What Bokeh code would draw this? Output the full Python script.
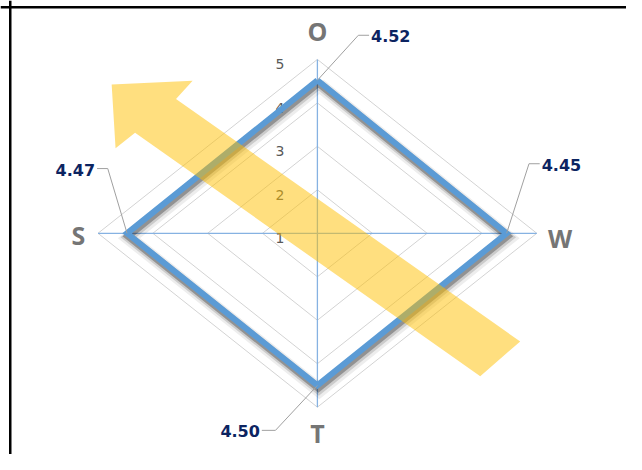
import numpy as np
from bokeh.plotting import figure
from bokeh.models import Range1d, Span
from bokeh.core.properties import value
from bokeh.embed import file_html
from bokeh.resources import INLINE

# ---- data ----
categories = ["O", "W", "T", "S"]
scores = [4.52, 4.45, 4.50, 4.47]
score_labels = ["4.52", "4.45", "4.50", "4.47"]
ticks = [1, 2, 3, 4, 5]
tick_labels = ["1", "2", "3", "4", "5"]
r_min, r_max = 1, 5

# ---- layout helpers (reference pixel -> data units) ----
W, H = 626, 454
REF_W, REF_H = 642, 470
CX, CY = 325, 241          # centre of radar in reference pixels
SX, SY = 56.25, 45.0       # reference pixels per unit on each axis
def dx(px): return (px - CX) / SX
def dy(py): return (CY - py) / SY

p = figure(width=W, height=H, output_backend="svg", toolbar_location=None,
           x_range=Range1d(dx(0), dx(REF_W)), y_range=Range1d(dy(REF_H), dy(0)),
           x_axis_location=None, y_axis_location=None, min_border=0)
p.grid.visible = False
p.outline_line_color = None
p.background_fill_color = "white"

n = len(categories)
ang = np.pi / 2 - np.arange(n) * 2 * np.pi / n
ux, uy = np.round(np.cos(ang), 9), np.round(np.sin(ang), 9)

# grid rings
for t in ticks[1:]:
    r = t - r_min
    p.line(list(ux * r) + [ux[0] * r], list(uy * r) + [uy[0] * r],
           line_color="#d3d3d3", line_width=1)

# spokes
R = r_max - r_min
for i in range(n):
    p.line([0, ux[i] * R], [0, uy[i] * R], line_color="#86b2e2", line_width=1.3)

# radial tick labels
p.text(x=[0] * len(ticks), y=[t - r_min for t in ticks], text=tick_labels,
       x_offset=-33, y_offset=5, text_align="right", text_baseline="middle",
       text_font=value("DejaVu Sans"), text_font_size="14px", text_color="#595959")

# data polygon with shadow
rr = np.array(scores) - r_min
px_ = list(ux * rr) + [ux[0] * rr[0]]
py_ = list(uy * rr) + [uy[0] * rr[0]]
for w, a, ox, oy in [(14, 0.07, 2, 5), (10, 0.14, 1.5, 4), (7, 0.28, 1, 3)]:
    p.line([x + ox / SX for x in px_], [y - oy / SY for y in py_],
           line_color="black", line_alpha=a, line_width=w, line_join="miter")
p.line(px_, py_, line_color="#5b9bd5", line_width=6, line_join="miter")

# leader lines and value labels
elbow = [(367, 36, 378, 36), (542, 169, 553, 169), (282, 445, 268, 445), (110, 174, 99, 174)]
lab_pos = [(380, 37, "left"), (555, 170, "left"), (266, 446, "right"), (97, 175, "right")]
for i in range(n):
    ex1, ey1, ex2, ey2 = elbow[i]
    p.line([ux[i] * rr[i], dx(ex1), dx(ex2)], [uy[i] * rr[i], dy(ey1), dy(ey2)],
           line_color="#a0a0a0", line_width=1)
    lx, ly, al = lab_pos[i]
    p.text(x=[dx(lx)], y=[dy(ly)], text=[score_labels[i]], text_align=al,
           text_baseline="middle", text_font=value("DejaVu Sans"),
           text_font_style="bold", text_font_size="16px", text_color="#0c2461")

# category labels
cat_pos = [(325, 32), (574, 246), (325, 448), (80, 243)]
p.text(x=[dx(c[0]) for c in cat_pos], y=[dy(c[1]) for c in cat_pos], text=categories,
       text_align="center", text_baseline="middle", text_font=value("Open Sans"),
       text_font_style="bold", text_font_size="25px", text_color="#757575")

# yellow arrow decoration
arrow_px = [(114, 87), (197, 83), (180, 102), (533, 353), (492, 389), (138, 137), (118, 153)]
p.patch([dx(a) for a, b in arrow_px], [dy(b) for a, b in arrow_px],
        fill_color="#ffc000", fill_alpha=0.5, line_color=None)

# frame lines (top and left)
p.add_layout(Span(location=dy(7), dimension="width", line_color="black", line_width=2.5))
p.add_layout(Span(location=dx(10), dimension="height", line_color="black", line_width=2.5))

open("out.html", "w").write(file_html(p, INLINE))
